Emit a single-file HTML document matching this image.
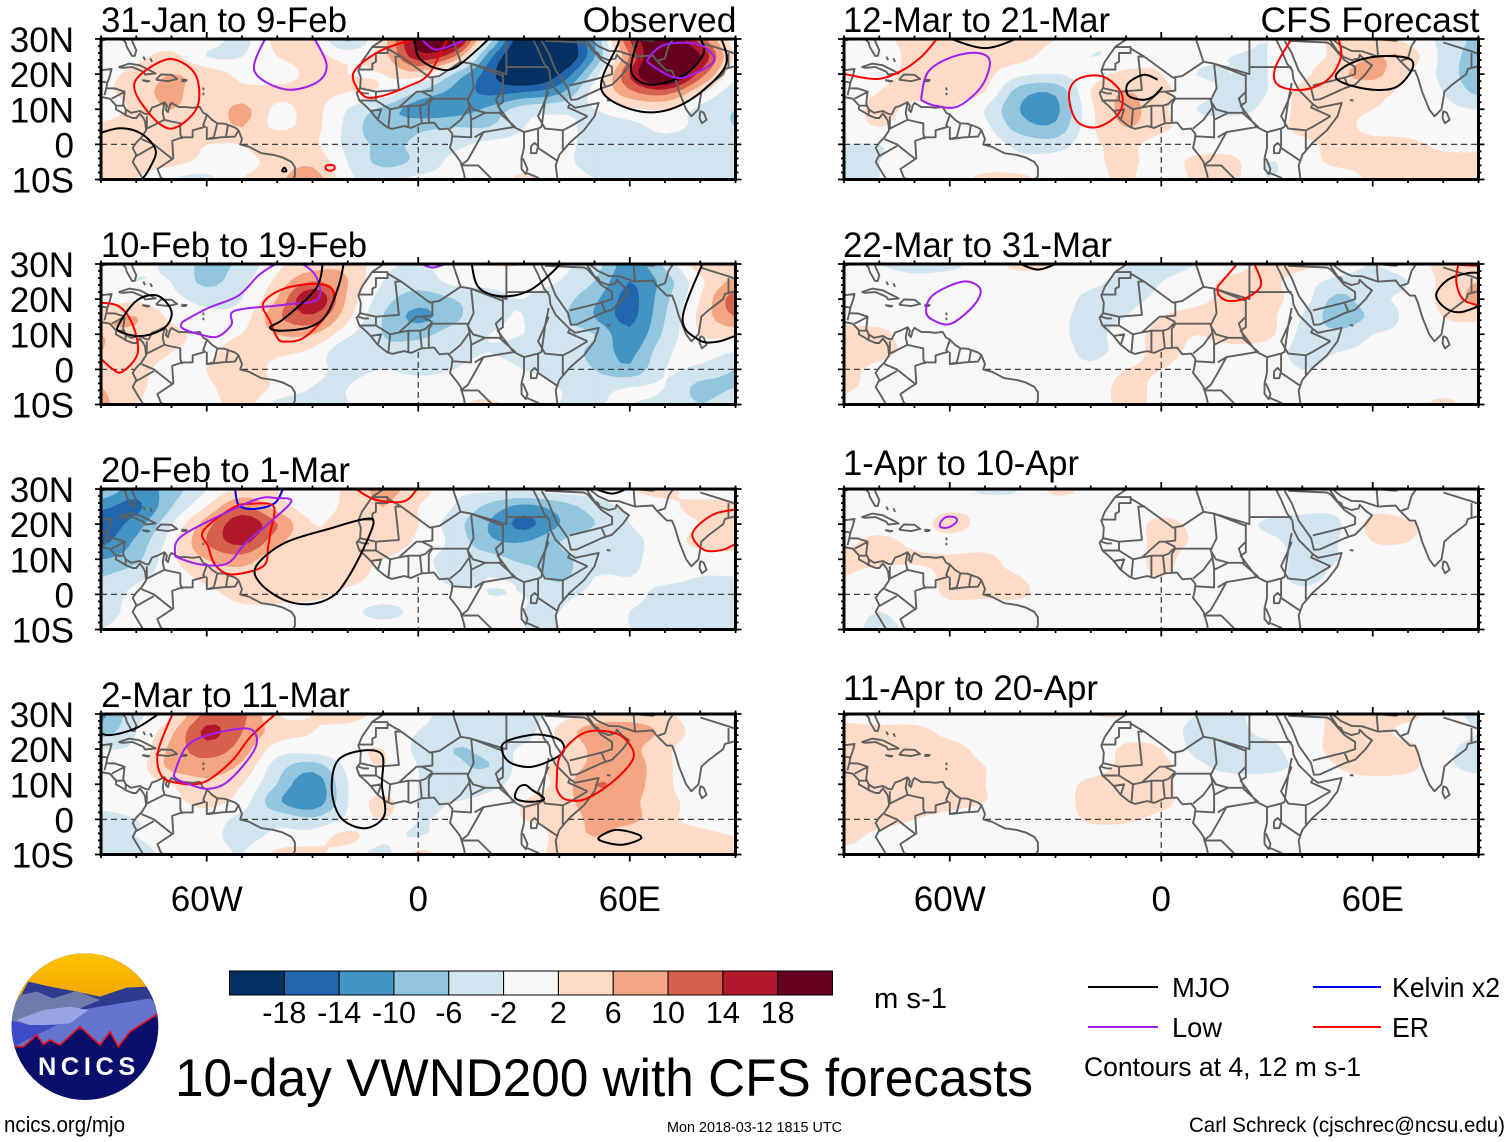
<!DOCTYPE html>
<html lang="en">
<head>
<meta charset="utf-8">
<title>10-day VWND200 with CFS forecasts</title>
<style>
html,body{margin:0;padding:0;background:#fff}
svg{display:block}
text{font-family:"Liberation Sans",sans-serif;fill:#000}
</style>
</head>
<body>
<svg id="chart" xmlns="http://www.w3.org/2000/svg" width="1510" height="1142" viewBox="0 0 1510 1142">
  <g id="panels"></g>

  <g transform="translate(0 945) scale(.3333)">
    <defs>
      <clipPath id="logo-clip"><circle cx="255" cy="245" r="220"/></clipPath>
      <linearGradient id="sun" x1="0" y1="0" x2="0" y2="1"><stop offset="0" stop-color="#ffc800"/><stop offset="1" stop-color="#f2a400"/></linearGradient>
    </defs>
    <g clip-path="url(#logo-clip)">
      <rect x="0" y="0" width="510" height="495" fill="#0a0f6c"/>
      <rect x="0" y="0" width="510" height="170" fill="url(#sun)"/>
      <polygon fill="#2f3b8f" points="20,230 85,110 150,125 230,140 300,155 380,128 440,125 490,210 300,260"/>
      <polygon fill="#6f7cab" points="25,215 60,150 110,140 160,160 230,138 300,165 240,190 150,250 25,245"/>
      <polygon fill="#6574cf" points="240,195 330,180 450,160 490,195 470,205 390,260 355,305 330,260 300,300 240,245 180,300 150,285 130,298 110,270 70,305 45,305 25,240"/>
      <polygon fill="#98a5e2" points="50,225 130,195 210,185 265,195 210,235 130,240 85,240"/>
      <polygon fill="#3c4cc6" points="25,225 90,240 170,240 120,265 70,290 45,305 25,290"/>
      <polyline fill="none" stroke="#e8141c" stroke-width="5" points="40,305 70,305 110,270 130,298 150,285 180,300 240,245 300,300 330,260 355,305 390,260 475,205"/>
    </g>
    <text x="260" y="390" font-size="76" font-weight="bold" text-anchor="middle" textLength="292" lengthAdjust="spacing" style="fill:#fff">NCICS</text>
  </g>

  <g id="colorbar"></g>
  <text x="874" y="1008" font-size="29" textLength="73" lengthAdjust="spacingAndGlyphs">m s-1</text>

  <text x="175" y="1096" font-size="53" textLength="858" lengthAdjust="spacingAndGlyphs">10-day VWND200 with CFS forecasts</text>

  <g>
    <line x1="1088" x2="1158" y1="987" y2="987" stroke="#000" stroke-width="2"/>
    <text x="1172" y="997" font-size="27.5" textLength="58" lengthAdjust="spacingAndGlyphs">MJO</text>
    <line x1="1313" x2="1381" y1="987" y2="987" stroke="#0000ee" stroke-width="2"/>
    <text x="1392" y="997" font-size="27.5" textLength="108" lengthAdjust="spacingAndGlyphs">Kelvin x2</text>
    <line x1="1088" x2="1158" y1="1027" y2="1027" stroke="#a020f0" stroke-width="2"/>
    <text x="1172" y="1037" font-size="27.5" textLength="50" lengthAdjust="spacingAndGlyphs">Low</text>
    <line x1="1313" x2="1381" y1="1027" y2="1027" stroke="#ff0000" stroke-width="2"/>
    <text x="1392" y="1037" font-size="27.5" textLength="37" lengthAdjust="spacingAndGlyphs">ER</text>
    <text x="1084" y="1076" font-size="27" textLength="277" lengthAdjust="spacingAndGlyphs">Contours at 4, 12 m s-1</text>
  </g>

  <text x="4" y="1132" font-size="22" textLength="121" lengthAdjust="spacingAndGlyphs">ncics.org/mjo</text>
  <text x="667" y="1132" font-size="14.5" textLength="175" lengthAdjust="spacingAndGlyphs">Mon 2018-03-12 1815 UTC</text>
  <text x="1189" y="1132" font-size="21.5" textLength="316" lengthAdjust="spacingAndGlyphs">Carl Schreck (cjschrec@ncsu.edu)</text>
</svg>

<script>
/* ---- axes ---- */
const gridLons = [-90,-80,-70,-60,-50,-40,-30,-20,-10,0,10,20,30,40,50,60,70,80,90];
const gridLats = [30,25,20,15,10,5,0,-5,-10];
const latTicks = [30,20,10,0,-10];
const latTickLabels = ['30N','20N','10N','0','10S'];
const lonTicks = [-60,0,60];
const lonTickLabels = ['60W','0','60E'];
const colorbarLabels = ['-18','-14','-10','-6','-2','2','6','10','14','18'];
const colorbarColors = ['#053061','#2166ac','#4393c3','#92c5de','#d1e5f0','#f7f7f7','#fddbc7','#f4a582','#d6604d','#b2182b','#67001f'];
const posLevels = [2,6,10,14,18];
const posColors = ['#fddbc7','#f4a582','#d6604d','#b2182b','#67001f'];
const negLevels = [2,6,10,14,18];
const negColors = ['#d1e5f0','#92c5de','#4393c3','#2166ac','#053061'];
const waveColors = {mjo:'#000000',low:'#a020f0',kelvin:'#0000ee',er:'#ff0000'};

/* ---- VWND200 anomaly: rows = gridLats, columns = gridLons (m/s) ---- */
const fieldJan31 = [
[-1,0,0,0,-3,3,3,-7,4,20,22,-3,-22,-22,-10,14,22,12,0],
[0,1,3,-2,-2,2,3,1,4,16,10,-12,-24,-24,-10,10,26,18,1],
[1,3,6,4,1,0,3,2,2,4,-6,-16,-24,-18,-4,14,26,12,-1],
[1,4,7,3,3,3,3,2,1,-6,-11,-15,-14,-11,0,9,12,3,-4],
[-1,3,6,3,7,1,3,-2,-7,-12,-12,-9,-4,-3,-2,1,2,-3,-6],
[3,5,3,3,6,1,3,-3,-9,-7,-6,-6,-2,-1,-3,-3,-1,-3,-6],
[4,5,3,2,2,6,3,-3,-7,-5,-3,-1,-1,-1,-3,-3,-3,-4,-3],
[5,4,3,1,0,4,5,-2,-7,-5,-1,-1,0,-1,-3,-2,-3,-4,-3],
[6,2,-2,-3,2,5,8,-1,-3,-1,-1,-1,3,0,-2,-3,-3,-3,-3]];
const fieldFeb10 = [
[-1,-1,-3,-7,-5,1,4,5,-1,-2,-1,2,2,-1,-4,-12,-5,4,4],
[-1,-2,-2,-7,-3,3,10,6,-2,-4,-1,-1,-1,-2,-6,-14,-8,1,7],
[0,1,-1,-3,-2,6,18,5,-4,-8,-6,-3,-2,-4,-9,-15,-7,2,12],
[5,6,1,-1,0,9,13,3,-6,-11,-7,-3,-2,-5,-10,-15,-6,3,10],
[6,5,3,1,2,6,6,-1,-6,-7,-4,-2,-2,-4,-6,-13,-5,2,3],
[6,4,2,1,4,3,1,-5,-5,-4,-3,-2,-3,-4,-7,-11,-3,0,-2],
[5,3,1,2,6,0,-1,-3,-2,-3,-2,-1,-2,-3,-6,-9,-2,-3,-6],
[6,3,0,1,5,1,-2,-2,0,0,0,-1,-1,-2,-3,-2,-2,-7,-6],
[7,2,1,0,4,-3,-3,-2,-1,0,1,3,-1,-2,-2,-2,-3,-6,-3]];
const fieldFeb20 = [
[-6,-12,-8,-2,3,2,-1,3,7,4,-1,-1,-1,0,0,2,3,0,0],
[-13,-15,-6,2,10,4,0,3,6,2,-2,-7,-11,-8,-4,-1,1,3,3],
[-16,-12,-2,8,17,10,2,4,5,2,-4,-10,-15,-10,-6,-2,0,2,4],
[-15,-9,0,10,15,7,3,3,5,1,-3,-9,-10,-6,-3,-3,0,3,4],
[-10,-7,1,6,8,3,6,3,2,-1,-3,-4,-7,-7,-4,-3,0,0,0],
[-6,-3,0,3,4,3,3,3,1,0,-3,-2,-3,-7,-2,-2,-1,-2,-2],
[-4,-1,0,1,3,3,3,1,0,0,-1,-2,-2,-3,-1,-1,-3,-3,-2],
[-3,-1,0,0,1,1,0,-1,-3,-1,0,-1,-2,-2,0,-2,-3,-3,-3],
[-2,-1,-1,-2,0,1,0,0,0,0,0,-1,-2,-2,0,-2,-3,-5,-3]];
const fieldMar2 = [
[-11,-3,1,11,11,2,2,3,1,-1,-3,-3,-4,0,3,4,3,-1,-2],
[-8,-2,5,15,10,4,2,1,0,-2,-4,-6,-4,3,8,8,5,0,-2],
[-2,-1,7,12,8,0,0,1,2,-3,-6,-5,-1,1,7,7,3,-1,-1],
[-2,0,7,8,5,-4,-8,-1,2,-2,-5,-6,0,3,7,8,3,-1,-1],
[-1,0,2,5,2,-6,-13,-2,0,-2,-3,-3,0,3,10,8,3,-1,-2],
[-1,0,1,3,0,-9,-13,-2,3,-2,-2,-1,2,4,8,7,3,1,0],
[-3,-2,-1,0,-3,-3,-5,-1,2,-2,-1,0,2,3,7,7,3,1,0],
[-3,-2,-1,-1,-3,-1,0,3,-1,-2,0,0,0,3,6,3,3,3,2],
[-3,-3,-1,0,-2,3,3,0,-3,3,0,0,0,3,3,3,3,3,3]];
const fieldMar12 = [
[-2,1,3,4,3,3,2,-1,-1,0,-1,-1,-2,0,3,4,1,-3,-7],
[0,0,3,3,3,3,0,-2,-1,1,-1,-2,-2,0,3,6,4,-3,-8],
[0,1,3,5,3,-1,-2,0,3,2,-2,-2,-2,1,5,7,2,-3,-9],
[0,2,3,3,2,-8,-9,2,6,3,0,-3,-2,3,3,3,1,-2,-7],
[0,3,1,2,-2,-10,-11,1,7,3,-2,-3,-1,3,3,2,1,-1,-2],
[0,2,0,0,-1,-8,-9,1,6,3,0,0,0,3,3,1,0,-2,0],
[-2,-2,0,0,0,-3,-4,1,3,0,0,0,0,1,3,3,3,1,1],
[-3,-2,0,0,0,-1,0,1,3,0,3,3,-2,0,3,3,3,3,3],
[-3,-2,0,0,3,3,0,0,3,-2,3,3,-2,0,-1,3,3,3,3]];
const fieldMar22 = [
[0,-2,-3,-3,0,3,2,0,-2,-3,-2,0,3,3,0,-2,0,3,3],
[0,0,-1,0,0,0,0,-1,-3,-2,0,3,3,0,-3,-3,-2,3,6],
[0,0,0,0,0,0,0,-3,-3,-1,1,3,3,0,-7,-3,-1,3,7],
[1,0,0,0,0,0,-1,-3,-2,2,3,3,3,-2,-8,-5,-1,2,3],
[3,3,0,0,0,0,-1,-3,0,3,2,3,3,-3,-5,-2,-1,1,0],
[4,3,1,1,0,0,0,-3,0,3,1,1,0,-3,-2,-1,0,0,0],
[3,1,0,0,0,0,0,-1,2,2,0,0,0,-2,-1,0,0,0,0],
[3,0,0,0,0,0,0,0,3,1,0,0,0,0,0,0,0,0,0],
[0,-2,0,0,0,0,0,0,3,1,0,0,0,0,0,0,0,3,0]];
const fieldApr1 = [
[0,0,0,0,-3,-2,3,1,0,0,0,0,0,0,0,0,0,0,0],
[0,0,0,1,1,0,0,0,0,0,0,0,0,-1,-1,1,0,0,0],
[0,0,0,3.5,0.5,0,0,0,0,3,1,0,-2.5,-3,-2.5,3,2.5,0,0],
[1,3,1,0.5,0,0,0,0,0,3,1.5,0,-1,-3,-2,2,2,0,0],
[3,3,2.5,2.5,3,0,0,0,0,3,0,0,0,-3,-2,0,0,0,0],
[2,0,0,3,3,2,0,0,0.5,2,0,0,0,-3,-1,0,0,0,0],
[0,0,0,2.5,2.5,2.5,0,0,0,0,0,0,0,-1,0,0,0,0,0],
[0,-2,0,0.5,0,0,0,0,0,0,0,0,0,0,0,0,0,0,0],
[-0.5,-3,-1,0,0,0,0,0,0,0,0,0,0,0,0,0,0,0,0]];
const fieldApr11 = [
[1,0,0,0,0,0,0,2,2,0,-2,-3,0,0,3,3,3,0,-3],
[3,3,3,1,0,0,0,0,1,0,-3,-3,-1,0,3,3,1,0,-2],
[3,3,3,3,1,0,0,0,2.5,2,-3,-3,-3,0,3,3,3,-1,-3],
[3,3,3,3,2,0,0,0,3,3,-1,-3,-3,-1,2,4,3,-1,-3],
[4,4,4,4,2,0,0,3,4,3,0,0,0,0,0,0,0,0,0],
[3,3,3,3,2,0,0,3.5,4,3,0,0,0,0,0,0,0,0,0],
[3,3,2,1,0,0,0,2.5,2.5,1,0,0,0,0,0,0,0,0,0],
[3,1,0,0,0,0,0,0,0,0,0,0,0,0,0,0,0,0,0],
[1,0,0,0,0,0,0,0,0,0,0,0,0,0,0,0,0,0,0]];

/* ---- filtered wave contours as [lon, lat] ---- */
const wavesJan31 = [
{t:'er',c:1,p:[[-72,24],[-66,22.7],[-62.5,18],[-63,10],[-70,4.5],[-76.5,9],[-80.5,17.5]]},
{t:'low',c:0,p:[[-43,31],[-46.5,21],[-38,15.7],[-29,17.5],[-26,22.7],[-30,31]]},
{t:'er',c:0,p:[[-1,30],[-11,26.5],[-18.4,20.3],[-15.7,14],[-11,13.6],[-3,16.5],[3,20],[8,29.5],[9,31]]},
{t:'mjo',c:0,p:[[-1,31],[0,25],[5,21.7],[10.7,22],[20,30],[21,31]]},
{t:'low',c:0,p:[[0.5,30.5],[5.3,27],[14.7,30.5]]},
{t:'mjo',c:0,p:[[57.5,31],[56.6,28.4],[52,15.5],[63.4,9.3],[75.5,11.7],[87,22],[85.7,31]]},
{t:'mjo',c:0,p:[[62.7,31],[60.4,20.8],[66,17],[75.5,19.8],[81,26],[79.6,31]]},
{t:'low',c:1,p:[[65.4,24.6],[70,28.4],[79.6,28.4],[84,24],[78,20],[72.8,19],[66,22.7]]},
{t:'mjo',c:0,p:[[-91,3],[-84.6,4.6],[-78.5,3],[-74.5,-1.6],[-76,-6.4],[-79,-11]]},
{t:'er',c:1,p:[[-26,-6],[-24,-6],[-23.8,-7],[-25,-7.5],[-26.2,-7]]},
{t:'mjo',c:1,p:[[-38,-6.6],[-37.4,-7.6],[-38.6,-7.6]]}];
const wavesFeb10 = [
{t:'er',c:0,p:[[-91,19],[-85,18],[-81,12.7],[-79.6,4.6],[-84,-0.7],[-87,.3],[-91,4]]},
{t:'mjo',c:1,p:[[-85,12.7],[-80,19.5],[-74,21],[-70,16.5],[-72,11.8],[-78.5,9.5],[-84.5,10.7]]},
{t:'low',c:0,p:[[-67,13.5],[-59.5,17.5],[-51,21],[-45,27],[-39,30.5],[-34,30.5],[-29,26.5],[-28.5,20],[-38,18.4],[-52,16.7],[-53,12.7],[-57,9.3],[-62,10],[-67,11.8],[-67,13.5]]},
{t:'er',c:1,p:[[-44,18.8],[-38,23],[-28.5,24.3],[-24,22],[-26,15.6],[-32.5,9],[-38,7.9],[-40,9],[-42,13.6]]},
{t:'mjo',c:0,p:[[-27,31],[-29,23],[-38,14.5],[-42,12],[-39,11],[-31,12],[-26,15.6],[-22.5,24],[-21,31]]},
{t:'low',c:0,p:[[0,30.5],[4,29],[9,30.5]]},
{t:'mjo',c:0,p:[[15,31],[17,23.5],[23.5,20.8],[32,22.7],[40.4,30],[41,31]]},
{t:'mjo',c:0,p:[[81,31],[75,14.6],[79.6,8.4],[85,7.9],[91,10]]}];
const wavesFeb20 = [
{t:'kelvin',c:0,p:[[-52,31],[-51,25.5],[-46.8,24.3],[-40.7,26],[-38,31]]},
{t:'er',c:1,p:[[-61,18],[-52.7,24.6],[-47.3,25.8],[-41,25],[-42,17.4],[-42.6,13.6],[-44,8],[-53,5.7],[-57.6,8.4],[-59.6,13.6]]},
{t:'low',c:1,p:[[-69,11.7],[-67.8,16],[-59.6,20.8],[-46,27],[-40,27.4],[-36,26.5],[-41.5,21],[-49,14.6],[-54,8.9],[-61,8.4],[-67.8,10.3]]},
{t:'mjo',c:1,p:[[-46,8],[-38,14.6],[-24.5,18.9],[-15,21.5],[-12.7,20.3],[-15.7,12.7],[-20.4,4],[-24.5,-0.7],[-31,-2.8],[-38,-1.6],[-44.7,3]]},
{t:'er',c:0,p:[[-18.4,30.5],[-12.3,27],[-4,26.5],[0,30.5]]},
{t:'mjo',c:0,p:[[49,30.5],[55,28.7],[60,30.5]]},
{t:'er',c:0,p:[[91,24.3],[83.6,22.7],[77.8,17.4],[81,12.7],[86.4,12.7],[91,15]]}];
const wavesMar2 = [
{t:'mjo',c:0,p:[[-91,25],[-87.5,24],[-80,26],[-73,30.5]]},
{t:'er',c:0,p:[[-69.3,31],[-73.8,19.5],[-73,12.7],[-69,10.5],[-61,10.5],[-53,16.5],[-47.5,23.6],[-39.3,31]]},
{t:'low',c:1,p:[[-69,13.6],[-65.7,20.8],[-59.6,24],[-48.8,25.9],[-45.8,23.2],[-47.3,18.4],[-54,10.8],[-59.6,8.7],[-65,10],[-68.8,11.7]]},
{t:'mjo',c:1,p:[[-16.4,19.5],[-10.3,18.4],[-10.3,9.8],[-9.6,1.2],[-15,-2.5],[-21.8,.3],[-24.5,8],[-23,16.5]]},
{t:'mjo',c:1,p:[[31.6,24],[24,21.5],[25.6,16.5],[32.3,15],[40.4,18.4],[41,21.7],[37.7,23.6]]},
{t:'mjo',c:1,p:[[27.6,6],[28.3,8.9],[30.3,9.8],[32.3,8.4],[35.7,5.8],[31.6,5]]},
{t:'mjo',c:1,p:[[51.2,-5.2],[56,-3],[62,-4.2],[63,-5.6],[58,-7.2],[53,-6.5]]},
{t:'er',c:1,p:[[39.3,10.8],[40.4,18.4],[47,24.6],[55,24.8],[59.3,22.2],[61,17.4],[55.3,10.8],[47.2,5.7],[41.8,5.7],[39.6,8]]}];
const wavesMar12 = [
{t:'er',c:0,p:[[-91,20.3],[-81,18.6],[-74,20.8],[-68,25],[-64,29.6],[-63,31]]},
{t:'mjo',c:0,p:[[-61,30.5],[-50,27.4],[-40,30.5]]},
{t:'low',c:1,p:[[-68,13.6],[-66,20.8],[-59,25],[-52,26],[-48.6,23.6],[-51,16.5],[-57.7,10.8],[-64,11],[-67.3,12.2]]},
{t:'er',c:1,p:[[-26,15.5],[-23,18.9],[-16.5,19.3],[-11.3,14.6],[-12,8.9],[-17.8,5],[-23,5.8],[-25.5,9.8]]},
{t:'mjo',c:0,p:[[-1,18.4],[-4.9,19.8],[-9.4,17.4],[-9.4,14],[-5.5,12.7],[-2.3,13.6],[.3,16.3]]},
{t:'er',c:0,p:[[37.6,31],[32.4,22],[33,17],[40,15.5],[47.2,18.4],[51,25],[50,31]]},
{t:'mjo',c:1,p:[[49.5,19.3],[53,22.7],[60.7,25],[69.8,24.6],[71.3,21.7],[67,16.5],[60.7,15.5],[53,17]]}];
const wavesMar22 = [
{t:'mjo',c:0,p:[[-41,30.5],[-35,28.4],[-28.7,30.5]]},
{t:'low',c:1,p:[[-66.7,16.5],[-64.7,21.2],[-56.3,25],[-51.4,23],[-53,18.4],[-59.6,13],[-64.7,14]]},
{t:'er',c:0,p:[[16,23.6],[21.5,30],[22,31],[26,31],[26.6,29.6],[28.3,24],[24,20.3],[19,19.5],[16.3,21.2],[16,23.6]]},
{t:'mjo',c:0,p:[[91,27.4],[87,27.4],[81.3,25.5],[78,21.2],[80.7,17.4],[85,16.3],[91,18.4]]},
{t:'er',c:0,p:[[84.5,31],[83.7,25],[85.8,19.8],[91,18]]},
{t:'er',c:0,p:[[91,29.5],[87,29.6],[84.5,29.8]]}];
const wavesApr1 = [
{t:'low',c:1,p:[[-62.8,20],[-61.3,21.9],[-58.7,22],[-58,20.8],[-60,19.2],[-62.2,19]]}];
const wavesApr11 = [];

/* ---- base map (lon, lat) ---- */
const coastlines = [
[[-81.5,31],[-81,29],[-80,26.8],[-80.4,25.2],[-81.2,25.2],[-82.7,27.8],[-83,29],[-84,30],[-86,30.5],[-90,29.5]],
[[-91,18.6],[-90.5,21],[-87,21.5],[-87.5,19.5],[-88.2,17.5],[-88.5,16],[-86,15.9],[-83.3,15],[-83.7,11.5],[-83,10],[-81.5,9],[-80,9.3],[-79,9.5],[-77.5,8.7],[-76.5,8.5],[-75.5,10.5],[-74,11],[-72,12],[-71.3,11],[-71.6,9.8],[-71,9.2],[-70.5,11],[-70,11.8],[-68,10.6],[-66,10.6],[-64,10.4],[-62,10.7],[-61,9],[-60,8.5],[-58.5,7],[-57,6],[-55,5.9],[-52,4.8],[-51,4],[-50,1.5],[-50.5,0],[-48,-0.7],[-44.5,-2.5],[-41,-3],[-38.5,-3.7],[-36,-5],[-35,-6.5],[-35,-9],[-36,-10.5],[-37,-12]],
[[-91,13.7],[-87.5,13],[-85.7,11],[-85.8,10],[-84,9],[-83,8.3],[-81,7.5],[-80,7.5],[-79,8.8],[-78,7.5],[-77.5,6.5],[-77.2,4],[-78.5,2],[-80,0.5],[-81,-1],[-80,-3],[-81,-5],[-79.5,-7.5],[-78,-10],[-77,-12]],
[[-85,22],[-82,23],[-79,22.5],[-76,21],[-74.5,20.2],[-77.5,19.9],[-78,20.7],[-81,22],[-84,21.8],[-85,22]],
[[-74.4,18.4],[-73,19.9],[-70,19.8],[-68.4,18.6],[-71,18],[-74.4,18.4]],
[[-78.3,18.3],[-76.3,18],[-77,17.9],[-78.3,18.3]],
[[-67.2,18.4],[-65.7,18.3],[-66,18],[-67.2,18]],
[[-61,16.2],[-60.9,15.4]],[[-61,14.7],[-60.9,14]],
[[-78,25],[-77.5,24]],[[-76,24.5],[-75.5,23.5]],
[[-9.5,31],[-9.7,30],[-13,27.8],[-16,23.5],[-17,21],[-16.3,19],[-16.5,16],[-17.5,14.7],[-16.7,12.5],[-15,11],[-13.5,9.5],[-11.5,7],[-9,5],[-7.5,4.4],[-4,5.2],[-2,4.7],[1,6],[4.5,6.2],[6,4.3],[8.5,4.5],[9.7,3],[9.5,1],[9,-1],[11,-3.5],[12,-5],[13,-8.5],[13.5,-11.5]],
[[32.5,31],[32.5,30],[34,27],[35.7,23],[37.2,21],[37.5,18.5],[39,15.5],[43,11.5],[44.5,10.4],[51.2,11.8],[50,8],[47,4],[43,0.5],[40,-3],[39,-6],[39.5,-10],[40.5,-11.5]],
[[35,29.5],[37,26],[39,21],[42.5,16],[43.3,12.7],[45,12.8],[52,16],[55,17],[58,20],[59.8,22.5],[58,23.8],[56.3,25.5],[56,24.5],[54,24],[51.5,25],[51,26],[50,26.5],[48,29.5],[48.5,30],[51,28],[54,26.6],[57,26.5],[61.5,25],[66.5,25.3],[67.5,24],[69,22.5],[70.5,21],[72,21],[72.8,19],[74,15],[76,10],[77.5,8],[79.5,10],[80,13],[80.3,15],[82.5,17],[86.5,20],[87,21.5],[89,22],[91,22.5]],
[[80,9.5],[79.8,7.5],[80.5,6],[81.8,7],[81,9],[80,9.5]],
[[53.5,12.6],[54.5,12.5]],
[[32,-0.5],[33,0.4],[34,-0.5],[33.5,-2.5],[32,-2.5],[32,-0.5]],
[[29.3,-4],[29.3,-7],[30.5,-8.5],[31,-7],[29.7,-4]],
[[-17,15],[-15.5,14.5],[-14,14.5]]
];
const borders = [
[[-72,12],[-72.5,9],[-72,7],[-70,6.5],[-67.5,6],[-67.5,3],[-67,1.5]],
[[-60,8.3],[-61,5.5],[-60.5,5],[-64,4],[-64,2],[-67,2],[-69.8,1],[-69.5,-4],[-74,-7],[-73,-9.5],[-70,-11]],
[[-78.5,1.5],[-75,0],[-70,-4]],[[-80.3,-3.5],[-75,-0.5]],
[[-77,8],[-77,4.5],[-72,7]],
[[-57,6],[-58,2],[-60,1.5],[-60,5]],[[-54,5.5],[-54.5,2.3]],[[-59.5,1.5],[-56,2],[-52,2.2],[-51,4]],
[[-87,13],[-83.2,15]],[[-83.6,11],[-85.7,11]],[[-83,8.3],[-83,10]],[[-89,14],[-88.5,16]],[[-91,17.8],[-89,17.8],[-88.2,17.5]],
[[-13,27.7],[-8.7,27.7],[-8.7,26],[-12,26],[-12,23.5],[-13,23],[-13,21.3],[-17,21.3]],
[[-8.7,27.3],[-4.8,25],[-6.5,25],[-5.5,15.5],[-12,15],[-16.5,16]],
[[-4.8,25],[3.3,19],[4,19],[4,15.3],[1,15],[-0.5,15],[-5.5,10.5],[-8,10],[-8.5,4.5]],
[[-12,15],[-12,12.5],[-16.7,12.5]],[[-12,12.5],[-8,10]],[[-13.5,9.5],[-10.5,10],[-11.5,7]],
[[-2.8,5],[-2.8,11],[0.5,11],[1,6]],[[0.5,11],[2,11.5],[4,13.5]],[[-5.5,10.5],[-2.8,11]],[[1,15],[4,13.5]],
[[3.3,19],[6,19.5],[12,23.5],[9.5,31]],
[[12,23.5],[15,23],[25,20],[25,31]],[[25,22],[37,22]],
[[24,20],[24,12],[22.5,11],[27,5],[30,3.5],[34,4.5],[35,5],[36,12.5],[37,17.5]],
[[15,23],[24,19.5],[24,15],[22,13],[23.5,9],[19,9],[15.5,10],[14,12.5],[15.7,16],[15,23]],
[[3,6.3],[3,11.5],[4,13],[14,13],[14.5,10.5],[12,7],[9,4.5]],
[[14.5,10.5],[15,7.5],[15,2],[9.8,2.3]],[[15,7],[19,9],[23,9],[27.5,5],[18.5,3.5],[16,2]],
[[18.5,3.5],[16,-1],[14,-4.5],[12,-6]],[[30,-1],[30,3.5]],[[30,-1],[29.3,-4]],
[[48,8],[43,5],[41,4],[36,4.5],[34,8],[36,12.5],[37,15]],[[43,11.5],[42.5,10.5],[48,8]],
[[41,-1.5],[41,4]],[[34,-1],[39.5,-4.7]],[[30.5,-8],[34,-9.5],[35,-11.5]],[[35,-11.5],[40.5,-10.5]],[[34,4.5],[34,-0.5]],
[[12,-6],[17,-6],[22,-11]],
[[36,29.5],[47,29],[48,28.5],[52,24],[55,22],[55,20],[52,19],[48,18],[43,16.8]],[[52,19],[53,16.6]],
[[61,31],[61.5,25]],[[71,28],[70,24.5],[68,23.8]],[[73,31],[71,28]],[[61,30],[66.5,29.5],[70,31]],[[80,29],[88,26.5],[92,25]],[[88,26],[88,22]]
];
/* open-water parts of the equator and prime meridian */
const equatorSegments = [[-90,-80.5],[-50,9.2],[42.5,90]];
const meridianSegment = [5,-10];

const panelList = [
 {title:'31-Jan to 9-Feb',side:'Observed',field:fieldJan31,waves:wavesJan31,slug:'jan31',col:0,row:0,base:32},
 {title:'10-Feb to 19-Feb',side:'',field:fieldFeb10,waves:wavesFeb10,slug:'feb10',col:0,row:1,base:257},
 {title:'20-Feb to 1-Mar',side:'',field:fieldFeb20,waves:wavesFeb20,slug:'feb20',col:0,row:2,base:482},
 {title:'2-Mar to 11-Mar',side:'',field:fieldMar2,waves:wavesMar2,slug:'mar2',col:0,row:3,base:707},
 {title:'12-Mar to 21-Mar',side:'CFS Forecast',field:fieldMar12,waves:wavesMar12,slug:'mar12',col:1,row:0,base:32},
 {title:'22-Mar to 31-Mar',side:'',field:fieldMar22,waves:wavesMar22,slug:'mar22',col:1,row:1,base:257},
 {title:'1-Apr to 10-Apr',side:'',field:fieldApr1,waves:wavesApr1,slug:'apr1',col:1,row:2,base:475},
 {title:'11-Apr to 20-Apr',side:'',field:fieldApr11,waves:wavesApr11,slug:'apr11',col:1,row:3,base:700}
];
const titleLengths = [246,266,249,249,267,269,236,255];

/* ---- layout + scales ---- */
const NS = 'http://www.w3.org/2000/svg';
const PW = 634.5, PH = 140.5;
const colLeft = [101, 844], rowTop = [39, 264, 489, 714];
function xScale(left, lon){ return left + (lon + 90) * PW / 180; }
function yScale(top, lat){ return top + (30 - lat) * PH / 40; }
function mk(parent, tag, attrs){
  const el = document.createElementNS(NS, tag);
  for (const k in attrs) el.setAttribute(k, attrs[k]);
  parent.appendChild(el);
  return el;
}
function cr(a,b,c,d,t){ return b + 0.5*t*(c-a + t*(2*a-5*b+4*c-d + t*(3*(b-c)+d-a))); }
function upsample(f, k){
  const R = f.length, C = f[0].length, out = [];
  const g = (r,c) => f[Math.max(0,Math.min(R-1,r))][Math.max(0,Math.min(C-1,c))];
  for (let i=0;i<=(R-1)*k;i++){
    const row=[], r0=Math.min(R-2,Math.floor(i/k)), tr=i/k-r0;
    for (let j=0;j<=(C-1)*k;j++){
      const c0=Math.min(C-2,Math.floor(j/k)), tc=j/k-c0, v=[];
      for (let m=-1;m<=2;m++) v.push(cr(g(r0+m,c0-1),g(r0+m,c0),g(r0+m,c0+1),g(r0+m,c0+2),tc));
      row.push(cr(v[0],v[1],v[2],v[3],tr));
    }
    out.push(row);
  }
  return out;
}
function bandPath(m, k, left, top, thr, sign){
  let d = '';
  const lonStep=(gridLons[1]-gridLons[0])/k, latStep=(gridLats[0]-gridLats[1])/k;
  for (let i=0;i<m.length-1;i++) for (let j=0;j<m[0].length-1;j++){
    const x0=xScale(left,gridLons[0]+j*lonStep), x1=xScale(left,gridLons[0]+(j+1)*lonStep);
    const y0=yScale(top,gridLats[0]-i*latStep), y1=yScale(top,gridLats[0]-(i+1)*latStep);
    const q=[[x0,y0,m[i][j]],[x1,y0,m[i][j+1]],[x1,y1,m[i+1][j+1]],[x0,y1,m[i+1][j]]];
    const poly=[];
    for (let n=0;n<4;n++){
      const a=q[n], b=q[(n+1)%4], ia=sign*a[2]>=thr, ib=sign*b[2]>=thr;
      if (ia) poly.push(a);
      if (ia!==ib){ const t=(thr-sign*a[2])/(sign*b[2]-sign*a[2]); poly.push([a[0]+t*(b[0]-a[0]),a[1]+t*(b[1]-a[1])]); }
    }
    if (poly.length>2) d+='M'+poly.map(p=>p[0].toFixed(1)+' '+p[1].toFixed(1)).join('L')+'Z';
  }
  return d;
}
function linePath(list, left, top){
  return list.map(l=>'M'+l.map(p=>xScale(left,p[0]).toFixed(1)+' '+yScale(top,p[1]).toFixed(1)).join('L')).join('');
}
function smoothPath(w, left, top){
  const P=w.p.map(p=>[xScale(left,p[0]),yScale(top,p[1])]), n=P.length;
  const at=i=> w.c ? P[(i+n)%n] : P[Math.max(0,Math.min(n-1,i))];
  let d='M'+P[0][0].toFixed(1)+' '+P[0][1].toFixed(1);
  const segs=w.c?n:n-1;
  for(let i=0;i<segs;i++){
    const a=at(i-1),b=at(i),c=at(i+1),e=at(i+2);
    d+='C'+(b[0]+(c[0]-a[0])/6).toFixed(1)+' '+(b[1]+(c[1]-a[1])/6).toFixed(1)+' '+(c[0]-(e[0]-b[0])/6).toFixed(1)+' '+(c[1]-(e[1]-b[1])/6).toFixed(1)+' '+c[0].toFixed(1)+' '+c[1].toFixed(1);
  }
  return d+(w.c?'Z':'');
}

/* ---- draw panels ---- */
const panelsRoot = document.getElementById('panels');
const K = 4;
panelList.forEach(function(pn, idx){
  const left = colLeft[pn.col], top = rowTop[pn.row];
  const g = mk(panelsRoot,'g',{});
  
  

  const clip = mk(g,'clipPath',{id:'clip-'+pn.slug});
  mk(clip,'rect',{x:left,y:top,width:PW,height:PH});

  const bg = mk(g,'rect',{x:left,y:top,width:PW,height:PH,fill:'#f7f7f7'});
  
  

  const body = mk(g,'g',{'clip-path':'url(#clip-'+pn.slug+')'});
  const m = upsample(pn.field, K);
  posLevels.forEach(function(lv,i){
    const d = bandPath(m,K,left,top,lv,1);
    if(!d) return;
    const b = mk(body,'path',{d:d,fill:posColors[i],stroke:posColors[i],'stroke-width':0.7});
    
    
  });
  negLevels.forEach(function(lv,i){
    const d = bandPath(m,K,left,top,lv,-1);
    if(!d) return;
    const b = mk(body,'path',{d:d,fill:negColors[i],stroke:negColors[i],'stroke-width':0.7});
    
    
  });

  const map = mk(body,'path',{d:linePath(coastlines,left,top)+linePath(borders,left,top),fill:'none',stroke:'#5f5f5f','stroke-width':1.9,'stroke-linejoin':'round'});
  
  

  const eq = mk(body,'path',{d:equatorSegments.map(s=>'M'+xScale(left,s[0])+' '+yScale(top,0)+'L'+xScale(left,s[1])+' '+yScale(top,0)).join(''),fill:'none',stroke:'#444','stroke-width':1.3,'stroke-dasharray':'6 4'});
  
  
  const mer = mk(body,'line',{x1:xScale(left,0),x2:xScale(left,0),y1:yScale(top,meridianSegment[0]),y2:yScale(top,meridianSegment[1]),stroke:'#444','stroke-width':1.3,'stroke-dasharray':'6 4'});
  
  

  pn.waves.forEach(function(w){
    const c = mk(body,'path',{d:smoothPath(w,left,top),fill:'none',stroke:waveColors[w.t],'stroke-width':2});
    
    
  });

  const fr = mk(g,'rect',{x:left,y:top,width:PW,height:PH,fill:'none',stroke:'#000','stroke-width':3});
  
  

  let td='';
  for(let lon=-90;lon<=90;lon+=10){
    const x=xScale(left,lon), mj=lonTicks.indexOf(lon)>=0, L=mj?7:3.5;
    td+='M'+x+' '+top+'V'+(top-L)+'M'+x+' '+(top+PH)+'V'+(top+PH+L);
  }
  for(let lat=-10;lat<=30;lat+=2){
    const y=yScale(top,lat), mj=latTicks.indexOf(lat)>=0, L=mj?6:3;
    td+='M'+left+' '+y+'H'+(left-L)+'M'+(left+PW)+' '+y+'H'+(left+PW+L);
  }
  const tk = mk(g,'path',{d:td,stroke:'#000','stroke-width':1.8,fill:'none'});
  
  

  const ttl = mk(g,'text',{x:left-(pn.col?1:0),y:pn.base,'font-size':35.5,textLength:titleLengths[idx],lengthAdjust:'spacingAndGlyphs'});
  ttl.textContent = pn.title;
  
  
  if(pn.side){
    const sd = mk(g,'text',{x:left+PW+1,y:pn.base,'font-size':35.5,'text-anchor':'end'});
    sd.textContent = pn.side;
    
    
  }
  if(pn.col===0){
    latTicks.forEach(function(lat,i){
      const t = mk(g,'text',{x:74,y:yScale(top,lat)+13,'font-size':35,'text-anchor':'end'});
      t.textContent = latTickLabels[i];
      
      
    });
  }
  if(pn.row===3){
    lonTicks.forEach(function(lon,i){
      const t = mk(g,'text',{x:xScale(left,lon),y:911,'font-size':35,'text-anchor':'middle'});
      t.textContent = lonTickLabels[i];
      
      
    });
  }
});

/* ---- colour bar ---- */
const cbRoot = document.getElementById('colorbar');
const cbX = 229.5, cbW = 603, cbY = 971, cbH = 24;
const cbStep = cbW / colorbarColors.length;
colorbarColors.forEach(function(col,i){
  const r = mk(cbRoot,'rect',{x:cbX+i*cbStep,y:cbY,width:cbStep,height:cbH,fill:col,stroke:'#000','stroke-width':1});
  
  
});
colorbarLabels.forEach(function(lb,i){
  const t = mk(cbRoot,'text',{x:cbX+(i+1)*cbStep,y:1023,'font-size':30.5,'text-anchor':'middle'});
  t.textContent = lb;
  
  
});
</script>
</body>
</html>
